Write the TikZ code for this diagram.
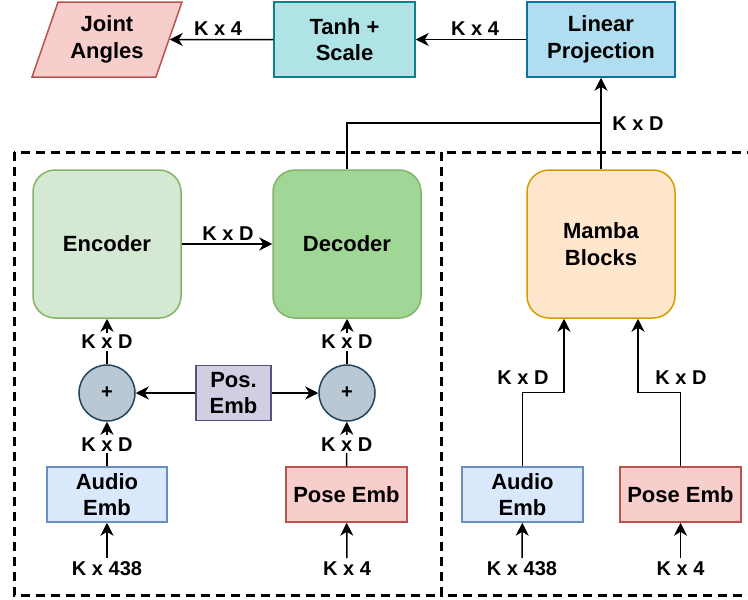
\documentclass[tikz,border=0pt]{standalone}
\usepackage{fontspec}
\setmainfont{Liberation Sans}
\usetikzlibrary{arrows.meta,shapes.geometric}

\definecolor{redfill}{HTML}{F8CECC}
\definecolor{reddraw}{HTML}{B85450}
\definecolor{tealfill}{HTML}{B0E3E6}
\definecolor{tealdraw}{HTML}{0E8088}
\definecolor{cyanfill}{HTML}{B1DDF0}
\definecolor{cyandraw}{HTML}{10739E}
\definecolor{encfill}{HTML}{D5E8D4}
\definecolor{decfill}{HTML}{A0D797}
\definecolor{greendraw}{HTML}{82B366}
\definecolor{sumfill}{HTML}{BAC8D3}
\definecolor{sumdraw}{HTML}{23445D}
\definecolor{posfill}{HTML}{D0CEE2}
\definecolor{posdraw}{HTML}{56517E}
\definecolor{bluefill}{HTML}{DAE8FC}
\definecolor{bluedraw}{HTML}{6C8EBF}
\definecolor{orangefill}{HTML}{FFE6CC}
\definecolor{orangedraw}{HTML}{D79B00}

\newcommand{\boxfont}{\fontsize{22}{26.5}\selectfont\bfseries}
\newcommand{\lblfont}{\fontsize{20}{24}\selectfont\bfseries}

\begin{document}
\begin{tikzpicture}[x=1pt,y=-1pt,
		blk/.style={draw,line width=1.5pt,minimum width=148pt,minimum height=148pt,rounded corners=22pt,font=\boxfont,align=center},
		emb/.style={draw,line width=1.5pt,minimum height=55pt,inner sep=0pt,font=\boxfont,align=center},
		sum/.style={circle,draw=sumdraw,fill=sumfill,line width=1.5pt,minimum size=56pt,inner sep=0pt,font=\lblfont},
		lbl/.style={font=\lblfont,inner sep=2pt,text height=14pt,text depth=0pt},
		wlbl/.style={lbl,fill=white},
		flow/.style={-{Stealth[length=13pt,width=13pt,inset=4pt]},line width=1.5pt},
		wire/.style={line width=1.5pt},
		grp/.style={dash pattern=on 9pt off 6pt,line width=3pt}]
	\useasboundingbox (0,0) rectangle (748,600);

	% dashed groups
	\draw[grp] (14,152) rectangle (441,595.5);
	\draw[grp] (441,152) rectangle (770,595.5);

	% output chain
	\node[trapezium,trapezium left angle=67.5,trapezium right angle=112.5,trapezium stretches=true,
		minimum width=150pt,minimum height=75pt,inner sep=0pt,draw=reddraw,fill=redfill,line width=1.5pt,
		font=\boxfont,align=center] (angles) at (107,39.5) {Joint\\Angles};
	\node[emb,draw=tealdraw,fill=tealfill,minimum width=141pt,minimum height=75pt] (tanh) at (344.5,39.5) {Tanh +\\Scale};
	\node[emb,draw=cyandraw,fill=cyanfill,minimum width=148pt,minimum height=75pt] (lin) at (601,39.5) {Linear\\Projection};

	% transformer
	\node[blk,draw=greendraw,fill=encfill] (enc) at (107,244) {Encoder};
	\node[blk,draw=greendraw,fill=decfill] (dec) at (347,244) {Decoder};
	\node[sum] (plus1) at (107,393) {+};
	\node[sum] (plus2) at (347,393) {+};
	\node[emb,draw=posdraw,fill=posfill,minimum width=75pt] (pos) at (233.5,393) {Pos.\\Emb};
	\node[emb,draw=bluedraw,fill=bluefill,minimum width=120pt] (audio) at (107,494.5) {Audio\\Emb};
	\node[emb,draw=reddraw,fill=redfill,minimum width=121pt] (pose) at (346.5,494.5) {Pose Emb};
	\node[lbl,anchor=north,inner sep=3pt] (audioin) at (107,558) {K x 438};
	\node[lbl,anchor=north,inner sep=3pt] (posein) at (347,558) {K x 4};

	% mamba
	\node[blk,draw=orangedraw,fill=orangefill] (mamba) at (601,244) {Mamba\\Blocks};
	\node[emb,draw=bluedraw,fill=bluefill,minimum width=121pt] (raudio) at (522.5,494.5) {Audio\\Emb};
	\node[emb,draw=reddraw,fill=redfill,minimum width=121pt] (rpose) at (680.5,494.5) {Pose Emb};
	\node[lbl,anchor=north,inner sep=3pt] (raudioin) at (522,558) {K x 438};
	\node[lbl,anchor=north,inner sep=3pt] (rposein) at (680.5,558) {K x 4};

	% connectors
	\draw[flow] (tanh) -- (angles);
	\draw[flow] (lin) -- (tanh);
	\node[lbl] (k4a) at (218,28) {K x 4};
	\node[lbl] (k4b) at (475,28) {K x 4};

	\coordinate (join) at (601,123);
	\draw[wire] (dec.north) |- (join);
	\draw[flow] (mamba) -- (lin);
	\node[lbl] (kdout) at (638,123.5) {K x D};

	\draw[flow] (enc) -- (dec);
	\node[lbl] (kdenc) at (228,233) {K x D};

	\draw[flow] (pos) -- (plus1);
	\draw[flow] (pos) -- (plus2);
	\draw[flow] (plus1) -- (enc) node[wlbl,midway] (kd1) {K x D};
	\draw[flow] (plus2) -- (dec) node[wlbl,midway] (kd2) {K x D};
	\draw[flow] (audio) -- (plus1) node[wlbl,midway] (kd3) {K x D};
	\draw[flow] (pose) -- (plus2) node[wlbl,midway] (kd4) {K x D};
	\draw[flow] (audioin) -- (audio);
	\draw[flow] (posein) -- (pose);

	\draw[flow] (raudio.north) -- ++(0,-74) -| ([xshift=-37pt]mamba.south);
	\draw[flow] (rpose.north) -- ++(0,-74) -| ([xshift=37pt]mamba.south);
	\node[lbl] (kd5) at (523,377) {K x D};
	\node[lbl] (kd6) at (681,377) {K x D};
	\draw[flow] (raudioin) -- (raudio);
	\draw[flow] (rposein) -- (rpose);
\end{tikzpicture}
\end{document}
